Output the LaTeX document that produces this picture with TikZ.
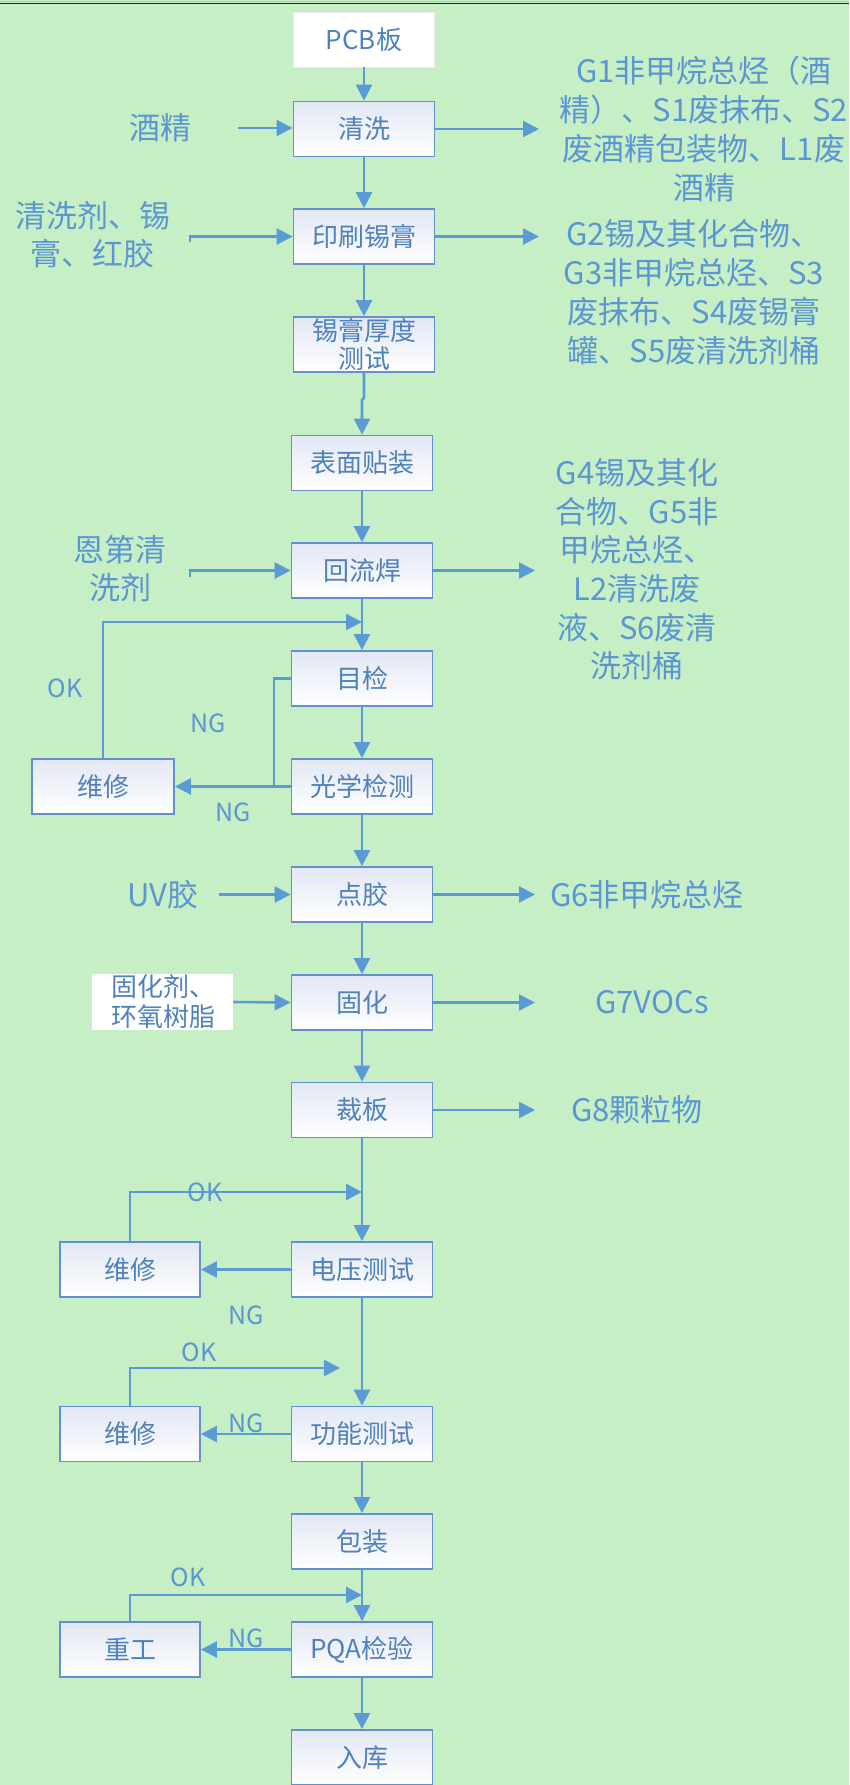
\documentclass[tikz,border=0pt]{standalone}
\usepackage{fontspec}
\setmainfont{Noto Sans CJK SC}
\usetikzlibrary{arrows.meta}
\definecolor{bg}{RGB}{198,239,198}
\definecolor{ln}{RGB}{91,155,213}
\definecolor{bd}{RGB}{100,145,205}
\definecolor{bt}{RGB}{79,129,189}
\definecolor{st}{RGB}{91,150,210}
\definecolor{topf}{RGB}{226,231,244}
\begin{document}
\begin{tikzpicture}[x=1pt,y=-1pt,
  proc/.style={draw=bd,line width=1.8pt,top color=topf,bottom color=white,minimum width=141pt,minimum height=55pt,inner sep=0pt,font=\fontsize{26}{28}\selectfont,text=bt,align=center},
  plain/.style={fill=white,draw=black!8,line width=0.6pt,minimum width=141pt,minimum height=55pt,inner sep=0pt,font=\fontsize{26}{30}\selectfont,text=bt},
  side/.style={font=\fontsize{31}{38}\selectfont,text=st,align=center,inner sep=0pt},
  lab/.style={font=\fontsize{25}{28}\selectfont,text=st,inner sep=0pt},
  arr/.style={draw=ln,line width=2.6pt,-{Triangle[length=16pt,width=16pt]}},
  con/.style={draw=ln,line width=2.6pt}]
\useasboundingbox (0,0) rectangle (849,1785);
\fill[bg] (0,0) rectangle (849,1785);
\draw[black!25,line width=0.8pt] (0,1.2) -- (849,1.2);
\draw[black!85,line width=1.5pt] (0,3.4) -- (849,3.4);

% main column
\node[plain] (pcb) at (364,39.5) {PCB板};
\node[proc] (b1) at (364,129) {清洗};
\node[proc] (b2) at (364,236.5) {印刷锡膏};
\node[proc] (b3) at (364,344.5) {锡膏厚度\\测试};
\node[proc] (b4) at (362,463) {表面贴装};
\node[proc] (b5) at (362,570.5) {回流焊};
\node[proc] (b6) at (362,678.5) {目检};
\node[proc] (b7) at (362,786.5) {光学检测};
\node[proc] (b8) at (362,894.5) {点胶};
\node[proc] (b9) at (362,1002.5) {固化};
\node[proc] (b10) at (362,1110) {裁板};
\node[proc] (b11) at (362,1269.5) {电压测试};
\node[proc] (b12) at (362,1434) {功能测试};
\node[proc] (b13) at (362,1541.5) {包装};
\node[proc] (b14) at (362,1649.5) {PQA检验};
\node[proc] (b15) at (362,1757.5) {入库};

% left boxes
\node[proc,minimum width=142pt] (r1) at (103,786.5) {维修};
\node[proc,minimum width=140pt] (r2) at (130,1269.5) {维修};
\node[proc,minimum width=140pt] (r3) at (130,1434) {维修};
\node[proc,minimum width=140pt] (r4) at (130,1649.5) {重工};

% input texts
\node[side] (t1) at (160,128) {酒精};
\node[side] (t2) at (93,235) {清洗剂、锡\\膏、红胶};
\node[side] (t3) at (120,569) {恩第清\\洗剂};
\node[side] (t4) at (163,895) {UV胶};
\node[plain,draw=none,minimum width=141pt,minimum height=56pt,inner xsep=19pt,text width=103pt,align=left,font=\fontsize{26}{30}\selectfont] (in1) at (162.5,1002) {固化剂、\\环氧树脂};

% output texts
\node[side,font=\fontsize{31}{39}\selectfont] (g1) at (704,128.5) {G1非甲烷总烃（酒\\精）、S1废抹布、S2\\废酒精包装物、L1废\\酒精};
\node[side,font=\fontsize{31}{39}\selectfont] (g2) at (694,292.5) {G2锡及其化合物、\\G3非甲烷总烃、S3\\废抹布、S4废锡膏\\罐、S5废清洗剂桶};
\node[side,font=\fontsize{31}{38.6}\selectfont] (g3) at (637,569.5) {G4锡及其化\\合物、G5非\\甲烷总烃、\\L2清洗废\\液、S6废清\\洗剂桶};
\node[side] (g6) at (647,895) {G6非甲烷总烃};
\node[side] (g7) at (652,1002) {G7VOCs};
\node[side] (g8) at (637,1110) {G8颗粒物};

% coordinates
\coordinate (oa) at (539,0);
\coordinate (ob) at (535,0);
\coordinate (i1) at (238,128);
\coordinate (i2) at (190,242);
\coordinate (i3) at (190,577);
\coordinate (i4) at (219,894.5);
\coordinate (k1) at (362,622);
\coordinate (j1) at (274,0);
\coordinate (k2) at (362,1192);
\coordinate (k3) at (340,1368);
\coordinate (k4) at (362,1595);

% main flow
\draw[arr] (pcb.south) -- (b1.north);
\draw[arr] (b1.south) -- (b2.north);
\draw[arr] (b2.south) -- (b3.north);
\draw[arr] (b3.south) -- ++(0,25) -- ++(-2,2) -- (b4.north);
\draw[arr] (b4.south) -- (b5.north);
\draw[arr] (b5.south) -- (b6.north);
\draw[arr] (b6.south) -- (b7.north);
\draw[arr] (b7.south) -- (b8.north);
\draw[arr] (b8.south) -- (b9.north);
\draw[arr] (b9.south) -- (b10.north);
\draw[arr] (b10.south) -- (b11.north);
\draw[arr] (b11.south) -- (b12.north);
\draw[arr] (b12.south) -- (b13.north);
\draw[arr] (b13.south) -- (b14.north);
\draw[arr] (b14.south) -- (b15.north);

% inputs
\draw[arr] (i1) -- (i1 -| b1.west);
\draw[arr] (i2) |- (b2.west);
\draw[arr] (i3) |- (b5.west);
\draw[arr] (i4) -- (b8.west);
\draw[arr] (in1.east) -- (b9.west);

% outputs
\draw[arr] (b1.east) -- (b1.east -| oa);
\draw[arr] (b2.east) -- (b2.east -| oa);
\draw[arr] (b5.east) -- (b5.east -| ob);
\draw[arr] (b8.east) -- (b8.east -| ob);
\draw[arr] (b9.east) -- (b9.east -| ob);
\draw[arr] (b10.east) -- (b10.east -| ob);

% loops
\draw[arr] (r1.north) |- (k1);
\draw[con] (b6.west) -| (j1 |- b7.west);
\draw[arr] (b7.west) -- (r1.east);
\draw[arr] (r2.north) |- (k2);
\draw[arr] (b11.west) -- (r2.east);
\draw[arr] (r3.north) |- (k3);
\draw[arr] (b12.west) -- (r3.east);
\draw[arr] (r4.north) |- (k4);
\draw[arr] (b14.west) -- (r4.east);

% labels
\node[lab] (ok1) at (65,688) {OK};
\node[lab] (ng1) at (208,723) {NG};
\node[lab] (ng2) at (233,812) {NG};
\node[lab] (ok2) at (205,1192) {OK};
\node[lab] (ng3) at (246,1315) {NG};
\node[lab] (ok3) at (199,1352) {OK};
\node[lab] (ng4) at (246,1423) {NG};
\node[lab] (ok4) at (188,1577) {OK};
\node[lab] (ng5) at (246,1638) {NG};
\end{tikzpicture}
\end{document}
